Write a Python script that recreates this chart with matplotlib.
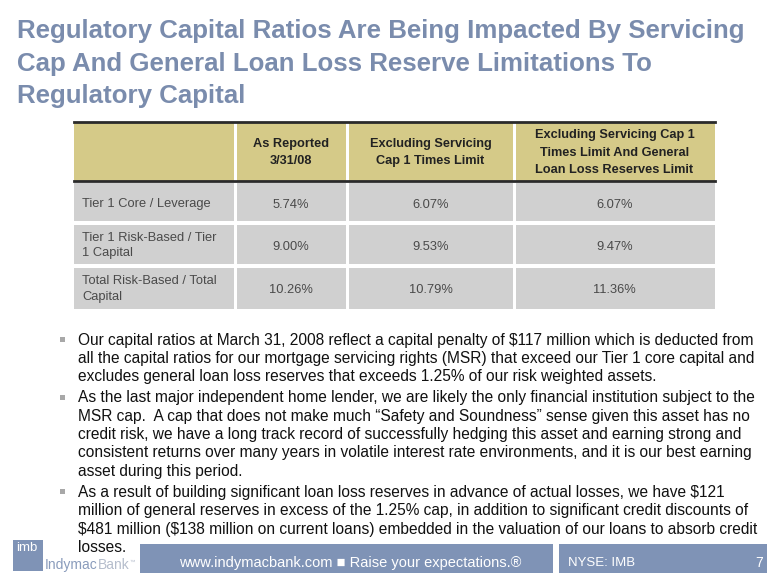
import matplotlib
matplotlib.use("Agg")
import matplotlib.pyplot as plt
from matplotlib.patches import Rectangle

# ---------------- data ----------------
title_lines = [
    "Regulatory Capital Ratios Are Being Impacted By Servicing",
    "Cap And General Loan Loss Reserve Limitations To",
    "Regulatory Capital",
]
col_headers = [
    "",
    "As Reported\n3/31/08",
    "Excluding Servicing\nCap 1 Times Limit",
    "Excluding Servicing Cap 1\nTimes Limit And General\nLoan Loss Reserves Limit",
]
row_labels = [
    "Tier 1 Core / Leverage",
    "Tier 1 Risk-Based / Tier\n1 Capital",
    "Total Risk-Based / Total\nCapital",
]
as_reported = [5.74, 9.00, 10.26]
excl_servicing = [6.07, 9.53, 10.79]
excl_servicing_reserves = [6.07, 9.47, 11.36]

bullets = [
    ["Our capital ratios at March 31, 2008 reflect a capital penalty of $117 million which is deducted from",
     "all the capital ratios for our mortgage servicing rights (MSR) that exceed our Tier 1 core capital and",
     "excludes general loan loss reserves that exceeds 1.25% of our risk weighted assets."],
    ["As the last major independent home lender, we are likely the only financial institution subject to the",
     "MSR cap.  A cap that does not make much \u201cSafety and Soundness\u201d sense given this asset has no",
     "credit risk, we have a long track record of successfully hedging this asset and earning strong and",
     "consistent returns over many years in volatile interest rate environments, and it is our best earning",
     "asset during this period."],
    ["As a result of building significant loan loss reserves in advance of actual losses, we have $121",
     "million of general reserves in excess of the 1.25% cap, in addition to significant credit discounts of",
     "$481 million ($138 million on current loans) embedded in the valuation of our loans to absorb credit",
     "losses."],
]
footer_center = "www.indymacbank.com \u25a0 Raise your expectations.\u00ae"
footer_ticker = "NYSE: IMB"
page_number = "7"

# ---------------- style ----------------
SANS = ["Liberation Sans", "DejaVu Sans"]
NARROW = ["Liberation Sans Narrow", "Liberation Sans", "DejaVu Sans"]
TITLE_C = "#7a8cad"
GOLD = "#d5ca88"
GRAY = "#d0d0d0"
FOOT = "#7f93b6"

fig = plt.figure(figsize=(7.8, 5.87), dpi=100)
ax = fig.add_axes([0, 0, 1, 1])
ax.set_xlim(0, 780)
ax.set_ylim(587, 0)
ax.axis("off")

# title
for i, line in enumerate(title_lines):
    ax.text(17, 31 + i * 32.5, line, fontsize=18.6, fontweight="bold",
            color=TITLE_C, family=SANS, va="center", ha="left")

# table geometry
col_x = [74, 235, 347, 514, 715]
row_y = [122, 181, 222, 265, 309]
gap = 1.5

# header row
for c in range(4):
    x0 = col_x[c] + (gap if c > 0 else 0)
    x1 = col_x[c + 1] - (gap if c < 3 else 0)
    ax.add_patch(Rectangle((x0, row_y[0]), x1 - x0, row_y[1] - row_y[0],
                           facecolor=GOLD, edgecolor="none"))
    ax.text((col_x[c] + col_x[c + 1]) / 2, (row_y[0] + row_y[1]) / 2 + 1,
            col_headers[c], fontsize=9.2, fontweight="bold", color="#222222",
            family=SANS, ha="center", va="center", linespacing=1.6)
ax.plot([col_x[0], col_x[-1]], [row_y[0], row_y[0]], color="#2a2a2a", lw=2)
ax.plot([col_x[0], col_x[-1]], [row_y[1], row_y[1]], color="#2a2a2a", lw=2)

columns = [as_reported, excl_servicing, excl_servicing_reserves]
for r in range(3):
    y0 = row_y[r + 1] + (gap if r == 0 else gap + 1.5)
    y1 = row_y[r + 2] - (gap if r < 2 else 0)
    yc = (row_y[r + 1] + row_y[r + 2]) / 2 + 2
    for c in range(4):
        x0 = col_x[c] + (gap if c > 0 else 0)
        x1 = col_x[c + 1] - (gap if c < 3 else 0)
        ax.add_patch(Rectangle((x0, y0), x1 - x0, y1 - y0,
                               facecolor=GRAY, edgecolor="none"))
    ax.text(82, yc, row_labels[r], fontsize=9.3, color="#4a4a4a",
            family=SANS, ha="left", va="center", linespacing=1.35)
    for c in range(3):
        ax.text((col_x[c + 1] + col_x[c + 2]) / 2, yc + 1,
                f"{columns[c][r]:.2f}%", fontsize=9.3, color="#4a4a4a",
                family=SANS, ha="center", va="center")

# bullets
y = 340
for b in bullets:
    ax.add_patch(Rectangle((60, y - 3), 5, 5, facecolor="#a8a8a8", edgecolor="none"))
    for line in b:
        ax.text(78, y, line, fontsize=11.2, color="#111111", family=SANS,
                ha="left", va="center", parse_math=False)
        y += 18.4
    y += 2.6

# footer
ax.add_patch(Rectangle((13, 540), 30, 31, facecolor=FOOT, edgecolor="none"))
ax.text(16, 548, "imb", fontsize=9.5, color="white", family=SANS,
        ha="left", va="center")
t1 = ax.text(45, 565, "Indymac", fontsize=10, color="#8a9cbc", family=SANS,
             ha="left", va="center")
t2 = ax.annotate("Bank", xy=(1, 0.5), xycoords=t1, fontsize=10,
                 color="#b5bdcc", family=SANS, ha="left", va="center")
ax.annotate("\u2122", xy=(1, 0.7), xycoords=t2, fontsize=4,
            color="#b5bdcc", family=SANS, ha="left", va="center")
ax.add_patch(Rectangle((140, 544), 413, 29, facecolor=FOOT, edgecolor="none"))
ax.add_patch(Rectangle((559, 544), 208, 29, facecolor=FOOT, edgecolor="none"))
ax.text(350, 563, footer_center, fontsize=10.5, color="white", family=NARROW,
        ha="center", va="center")
ax.text(568, 563, footer_ticker, fontsize=9.5, color="white", family=SANS,
        ha="left", va="center")
ax.text(759, 563, page_number, fontsize=10, color="white", family=SANS,
        ha="center", va="center")

fig.savefig("out.png", dpi=100)
